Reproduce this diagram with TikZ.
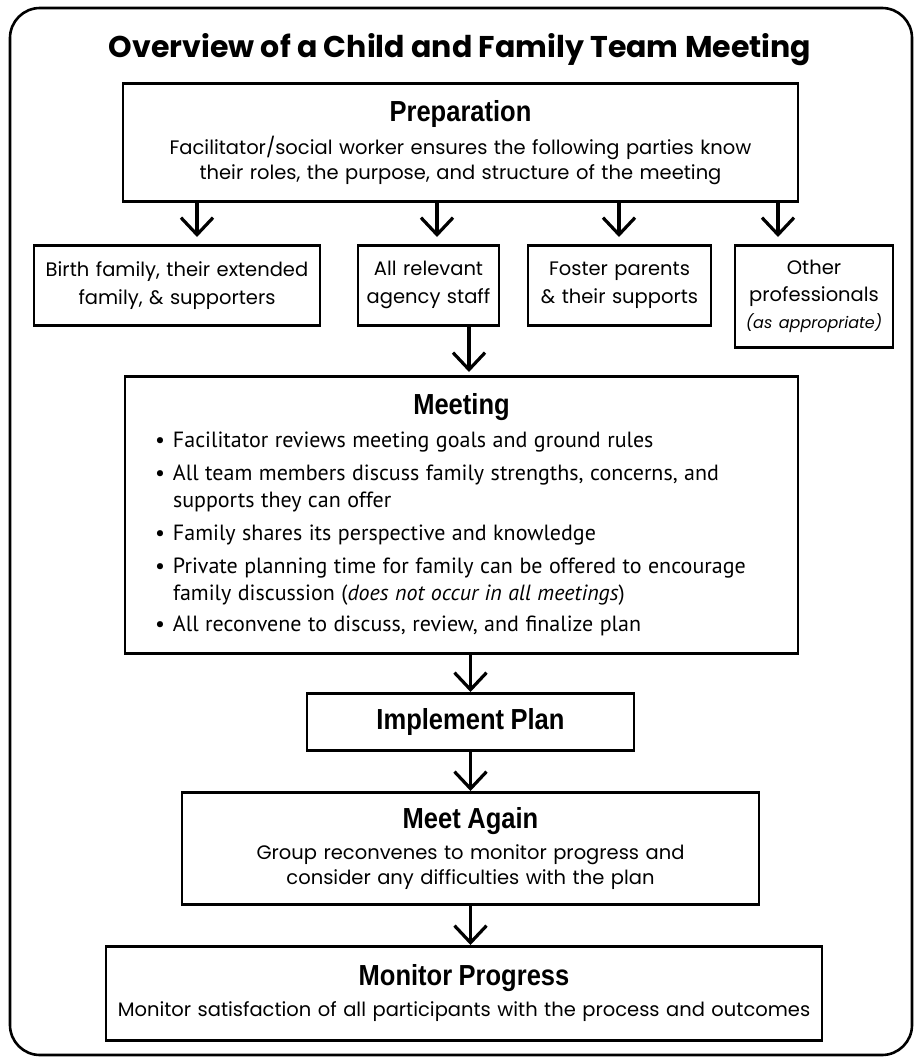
\documentclass[tikz,border=0pt]{standalone}
\usepackage{fontspec}
\setmainfont{Poppins}
\newfontfamily\headfont[FakeStretch=0.88]{Liberation Sans}
\newfontfamily\listfont{PT Sans}
\usetikzlibrary{arrows.meta}
\usetikzlibrary{positioning}

\newcommand{\bodyfont}{\fontsize{19.5}{25}\selectfont}
\newcommand{\heading}[1]{{\headfont\bfseries\fontsize{29}{30}\selectfont #1\par}}
\newcommand{\bitem}[1]{\par\vspace{6pt}\hangindent=18pt\hangafter=1\noindent\makebox[18pt][l]{\textbullet}#1}

\tikzset{
  box/.style={draw, line width=2.6pt, anchor=north, align=center, inner xsep=6pt, inner ysep=4pt, font=\bodyfont},
  flow/.style={line width=3.2pt, -{Straight Barb[length=17pt,width=32pt]}},
}

\begin{document}
\begin{tikzpicture}[x=1pt, y=-1pt]
\useasboundingbox (0,0) rectangle (919,1062);

\draw[line width=2.6pt, rounded corners=30pt] (10,8) rectangle (912,1055);

\node (title) at (460,50) {\fontsize{30}{32}\selectfont\bfseries Overview of a Child and Family Team Meeting};

\node[box, text width=663pt, minimum height=118pt] (prep) at (460.5,82)
  {\heading{Preparation}\vspace{8pt}
   Facilitator/social worker ensures the following parties know\\
   their roles, the purpose, and structure of the meeting};

% the four parties
\node[box, text width=274pt, minimum height=80pt, font=\fontsize{19.5}{28}\selectfont] (b1) at (177,244)
  {Birth family, their extended\\ family, \& supporters};
\node[box, text width=129pt, minimum height=80pt, font=\fontsize{19.5}{28}\selectfont] (b2) at (428.5,244)
  {All relevant\\ agency staff};
\node[box, text width=171pt, minimum height=80pt, font=\fontsize{19.5}{28}\selectfont] (b3) at (619.5,244)
  {Foster parents\\ \& their supports};
\node[box, text width=146pt, minimum height=102pt, font=\fontsize{19.5}{27}\selectfont] (b4) at (814,244)
  {Other\\ professionals\\ \mbox{\fontsize{16}{27}\selectfont\itshape (as appropriate)}};

\coordinate (a1) at (197,237);
\coordinate (a2) at (437,237);
\coordinate (a3) at (619,237);
\coordinate (a4) at (778,237);
\foreach \t in {a1,a2,a3,a4}
  \draw[flow] (prep.south -| \t) -- (\t);

\node[box, align=left, text width=613pt, inner xsep=30pt, minimum height=277pt] (meet) at (461.5,375)
  {{\centering\heading{Meeting}}
   \listfont\fontsize{22}{27}\selectfont\hyphenpenalty=10000
   \bitem{Facilitator reviews meeting goals and ground rules}
   \bitem{All team members discuss family strengths, concerns, and\newline supports they can offer}
   \bitem{Family shares its perspective and knowledge}
   \bitem{Private planning time for family can be offered to encourage\newline family discussion (\textit{does not occur in all meetings})}
   \bitem{All reconvene to discuss, review, and finalize plan}};

\coordinate (m0) at (469,372);
\draw[flow] (b2.south -| m0) -- (m0);

\node[box, text width=315pt, minimum height=57pt] (impl) at (470.5,692)
  {\heading{Implement Plan}};

\node[box, text width=565pt, minimum height=112pt] (again) at (470.5,791)
  {\heading{Meet Again}\vspace{6pt}
   Group reconvenes to monitor progress and\\
   consider any difficulties with the plan};

\node[box, text width=704pt, minimum height=94pt] (mon) at (464,945)
  {\heading{Monitor Progress}\vspace{6pt}
   Monitor satisfaction of all participants with the process and outcomes};

\draw[flow] (meet.south -| impl) -- (impl.north);
\draw[flow] (impl.south) -- (impl.south |- again.north);
\draw[flow] (again.south -| impl) -- (impl.south |- mon.north);

\end{tikzpicture}
\end{document}
